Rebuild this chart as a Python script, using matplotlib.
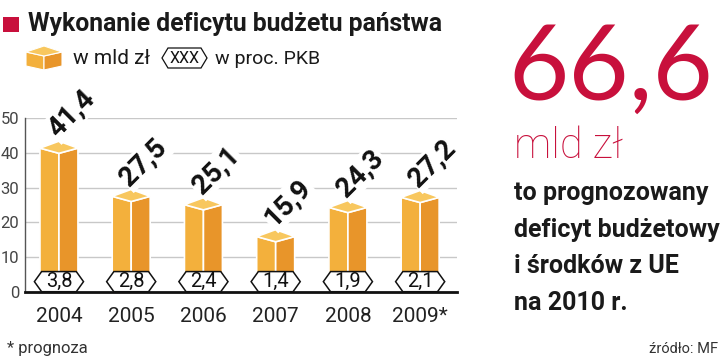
import matplotlib
matplotlib.use("Agg")
import matplotlib.pyplot as plt
from matplotlib.patches import Polygon, Rectangle

years = ["2004", "2005", "2006", "2007", "2008", "2009*"]
deficit_bln = [41.4, 27.5, 25.1, 15.9, 24.3, 27.2]
pct_gdp = [3.8, 2.8, 2.4, 1.4, 1.9, 2.1]
yticks = [0, 10, 20, 30, 40, 50]

def fmt(v):
    return f"{v:.1f}".replace(".", ",")

plt.rcParams['font.family'] = ['Roboto', 'DejaVu Sans']

W, H = 720, 359
fig = plt.figure(figsize=(W / 100, H / 100), dpi=100)

RED = '#C8103C'
C_LEFT = '#F3B03C'
C_RIGHT = '#E8952A'
C_TOP = '#F8C75E'

# main chart axes
ax_l, ax_r, ax_b, ax_t = 25, 457, 291.7, 118.3
ax = fig.add_axes([ax_l / W, 1 - ax_b / H, (ax_r - ax_l) / W, (ax_b - ax_t) / H])
ax.set_ylim(0, 50)
ax.set_xlim(-0.47, 5.51)
ax.set_yticks(yticks)
ax.set_yticklabels([str(t) for t in yticks], fontsize=12, color='#444444')
ax.set_xticks([])
ax.tick_params(axis='y', length=0, pad=4)
for s in ['top', 'right']:
    ax.spines[s].set_visible(False)
ax.spines['left'].set_color('#555555')
ax.spines['left'].set_linewidth(1)
ax.spines['bottom'].set_color('#111111')
ax.spines['bottom'].set_linewidth(2)
ax.spines['bottom'].set_zorder(5)
ax.grid(axis='y', color='#c8c8c8', linewidth=1)
ax.set_axisbelow(True)

hw = 0.263
dfront = 1.5
dback = 2.0
hex_hw = 0.34
hex_ind = 0.1
hex_h = 5.8

for i, (v, p, yr) in enumerate(zip(deficit_bln, pct_gdp, years)):
    xc = i
    xl, xr = xc - hw, xc + hw
    left = Polygon([(xl, 0), (xl, v), (xc, v - dfront), (xc, 0)], closed=True,
                   facecolor=C_LEFT, edgecolor='white', linewidth=1.2, zorder=2)
    right = Polygon([(xc, 0), (xc, v - dfront), (xr, v), (xr, 0)], closed=True,
                    facecolor=C_RIGHT, edgecolor='white', linewidth=1.2, zorder=2)
    top = Polygon([(xl, v), (xc, v - dfront), (xr, v), (xc, v + dback)], closed=True,
                  facecolor=C_TOP, edgecolor='white', linewidth=1.2, zorder=3)
    for patch in (left, right, top):
        patch.set_clip_on(False)
        ax.add_patch(patch)
    hexp = Polygon([(xc - hex_hw, hex_h / 2), (xc - hex_hw + hex_ind, hex_h),
                    (xc + hex_hw - hex_ind, hex_h), (xc + hex_hw, hex_h / 2),
                    (xc + hex_hw - hex_ind, 0), (xc - hex_hw + hex_ind, 0)], closed=True,
                   facecolor='white', edgecolor='#111111', linewidth=1.1, zorder=4)
    hexp.set_clip_on(False)
    ax.add_patch(hexp)
    ax.text(xc, hex_h / 2, fmt(p), ha='center', va='center', fontsize=14.5,
            color='#111111', zorder=6)
    ax.text(xc + 0.17, v + 9.8, fmt(v), ha='center', va='center', rotation=45,
            rotation_mode='anchor', fontsize=20, fontweight='bold', color='#111111',
            zorder=6, clip_on=False,
            bbox=dict(boxstyle='square,pad=0.05', facecolor='white', edgecolor='none'))
    ax.text(xc, -4.3, yr, ha='center', va='top', fontsize=15, color='#222222',
            clip_on=False)

# overlay axes for decorations in pixel coordinates
ov = fig.add_axes([0, 0, 1, 1], zorder=-1)
ov.set_xlim(0, W)
ov.set_ylim(H, 0)
ov.axis('off')

ov.add_patch(Rectangle((3, 17), 16, 15, facecolor=RED, edgecolor='none'))
fig.text(28 / W, 1 - 24.5 / H, "Wykonanie deficytu budżetu państwa", ha='left', va='center',
         fontsize=17.8, fontweight='bold', color='#1a1a1a')

# legend box icon
bx0, bx1, by_top = 26, 62, 46
bxc = (bx0 + bx1) / 2
ov.add_patch(Polygon([(bx0, 52), (bxc, 56), (bxc, 70), (bx0, 66)], closed=True,
                     facecolor=C_LEFT, edgecolor='white', linewidth=0.8))
ov.add_patch(Polygon([(bxc, 56), (bx1, 52), (bx1, 66), (bxc, 70)], closed=True,
                     facecolor=C_RIGHT, edgecolor='white', linewidth=0.8))
ov.add_patch(Polygon([(bx0, 52), (bxc, 56), (bx1, 52), (bxc, by_top)], closed=True,
                     facecolor=C_TOP, edgecolor='white', linewidth=0.8))
fig.text(73 / W, 1 - 59 / H, "w mld zł", ha='left', va='center', fontsize=15, color='#1a1a1a')
hx0, hx1, hy0, hy1 = 162, 207, 48, 68
ov.add_patch(Polygon([(hx0, (hy0 + hy1) / 2), (hx0 + 6, hy0), (hx1 - 6, hy0),
                      (hx1, (hy0 + hy1) / 2), (hx1 - 6, hy1), (hx0 + 6, hy1)], closed=True,
                     facecolor='white', edgecolor='#111111', linewidth=0.9))
fig.text((hx0 + hx1) / 2 / W, 1 - 58.5 / H, "XXX", ha='center', va='center', fontsize=11.5,
         color='#111111')
fig.text(215 / W, 1 - 59 / H, "w proc. PKB", ha='left', va='center', fontsize=14,
         color='#1a1a1a')

# right panel
fig.text(508 / W, 1 - 100 / H, "66,6", ha='left', va='baseline', fontsize=75,
         family=['Lato', 'Roboto'], color=RED)
fig.text(514 / W, 1 - 158 / H, "mld zł", ha='left', va='baseline', fontsize=30,
         fontweight='light', color=RED)
lines = ["to prognozowany", "deficyt budżetowy", "i środków z UE", "na 2010 r."]
for k, line in enumerate(lines):
    fig.text(514 / W, 1 - (200 + 36.5 * k) / H, line, ha='left', va='baseline',
             fontsize=18, fontweight='bold', color='#1a1a1a')

fig.text(7 / W, 1 - 349 / H, "* prognoza", ha='left', va='center', fontsize=12, color='#333333')
fig.text(718 / W, 1 - 349 / H, "źródło: MF", ha='right', va='center', fontsize=10.5,
         color='#333333')

fig.savefig("out.png", dpi=100, facecolor='white')
